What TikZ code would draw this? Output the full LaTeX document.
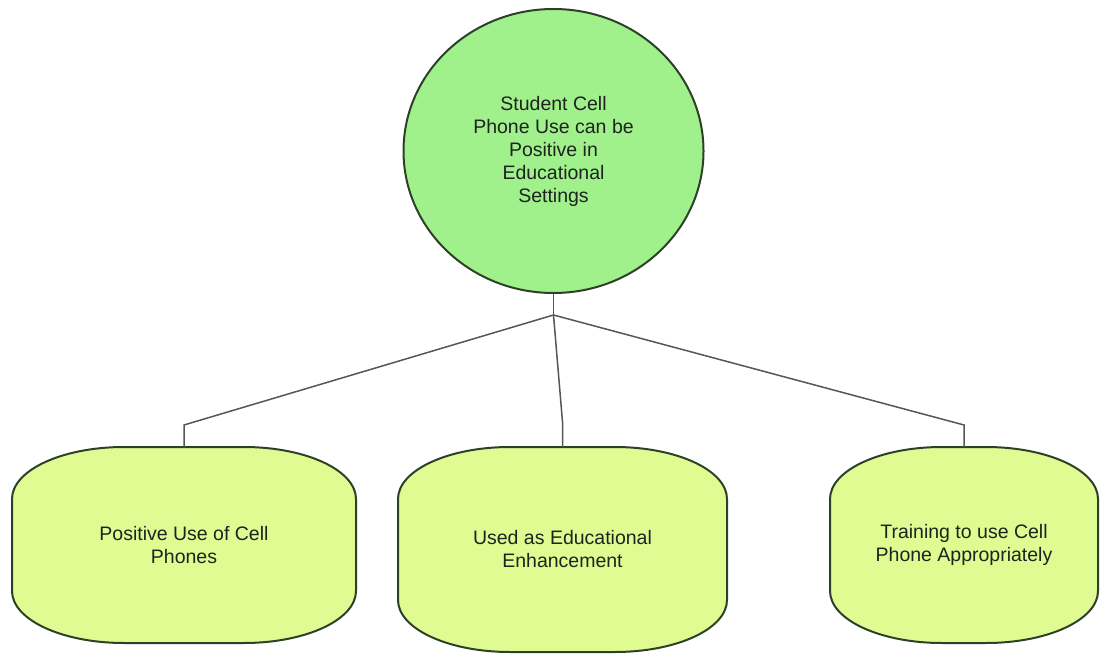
\documentclass[tikz,border=0pt]{standalone}
\usepackage{fontspec}
\setmainfont{Liberation Sans}
\usetikzlibrary{shapes.geometric,backgrounds,calc}
\definecolor{circfill}{RGB}{160,240,140}
\definecolor{boxfill}{RGB}{224,251,146}
\definecolor{edgecol}{RGB}{45,65,40}
\definecolor{wirecol}{RGB}{80,88,88}
\definecolor{ink}{RGB}{30,35,30}
\newcommand\leafpath[1]{\path[leafshape] ([xshift=112pt]#1.north west) -- ([xshift=-112pt]#1.north east) arc[start angle=90,end angle=0,x radius=112pt,y radius=52pt] -- ([yshift=52pt]#1.south east) arc[start angle=0,end angle=-90,x radius=112pt,y radius=52pt] -- ([xshift=112pt]#1.south west) arc[start angle=270,end angle=180,x radius=112pt,y radius=52pt] -- ([yshift=-52pt]#1.north west) arc[start angle=180,end angle=90,x radius=112pt,y radius=52pt] -- cycle;}
\begin{document}
\begin{tikzpicture}[x=1pt,y=1pt,
  txt/.style={font=\fontsize{19.5}{23}\selectfont, text=ink, align=center},
  topic/.style={ellipse, draw=edgecol, line width=2pt, fill=circfill, minimum width=300pt, minimum height=284pt, inner sep=0pt, txt},
  leaf/.style={rectangle, inner sep=0pt, outer sep=0pt, txt},
  leafshape/.style={draw=edgecol, line width=2pt, fill=boxfill},
  wire/.style={draw=wirecol, line width=1.5pt}]
\useasboundingbox (0,0) rectangle (1102,654);
\node[topic] (top) at (553.5,503) {Student Cell\\Phone Use can be\\Positive in\\Educational\\Settings};
\node[leaf, minimum width=344pt, minimum height=196pt] (a) at (184,109) {Positive Use of Cell\\Phones};
\node[leaf, minimum width=329pt, minimum height=205pt] (b) at (562.5,104.5) {Used as Educational\\Enhancement};
\node[leaf, minimum width=268pt, minimum height=196pt] (c) at (964,109) {Training to use Cell\\Phone Appropriately};
\begin{scope}[on background layer]
\leafpath{a}
\leafpath{b}
\leafpath{c}
\end{scope}
\coordinate (j) at (553.5,339);
\draw[wire] (top.south) -- (j);
\draw[wire] (j) -- ([yshift=22pt]a.north) -- (a.north);
\draw[wire] (j) -- ([yshift=25pt]b.north) -- (b.north);
\draw[wire] (j) -- ([yshift=22pt]c.north) -- (c.north);
\end{tikzpicture}
\end{document}
